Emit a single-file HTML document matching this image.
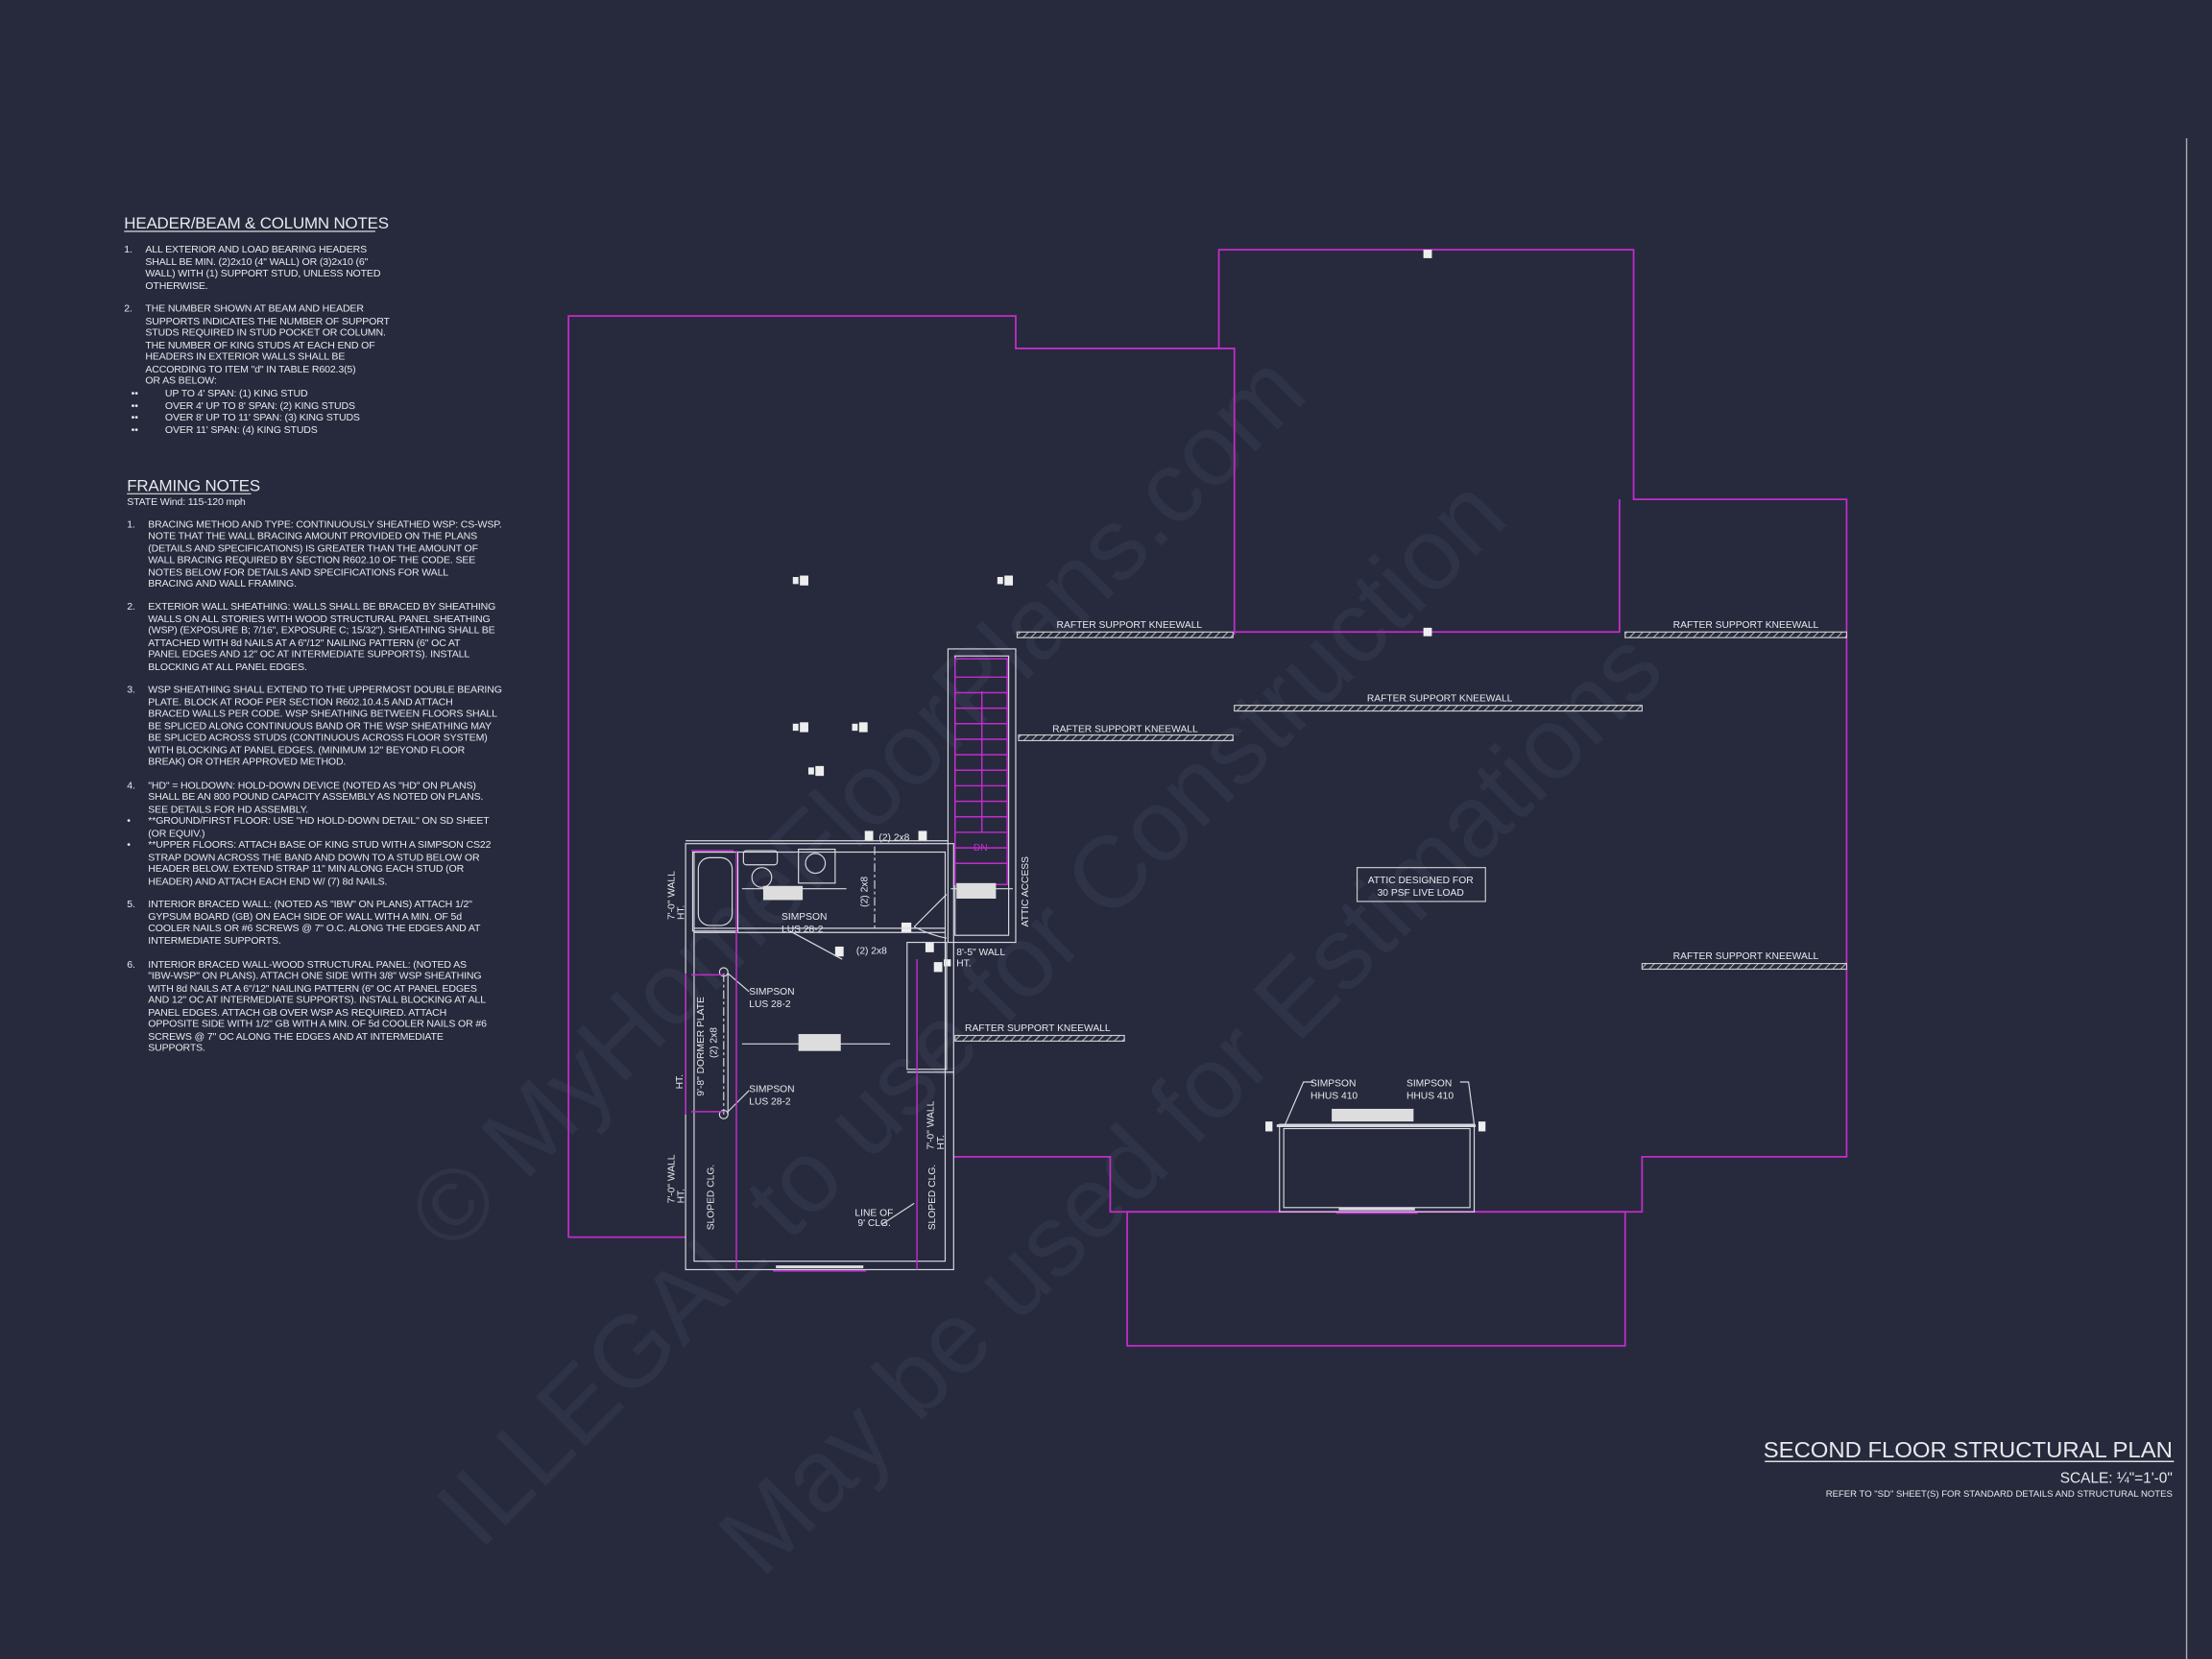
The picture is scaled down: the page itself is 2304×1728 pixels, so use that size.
<!DOCTYPE html>
<html><head><meta charset="utf-8"><style>
html,body{margin:0;padding:0;background:#262a3c;}
svg{display:block}
text{font-family:"Liberation Sans",sans-serif;fill:#e8e8ee;}
.n text{font-stretch:condensed;letter-spacing:-0.1px}
</style></head><body>
<svg width="2304" height="1728" viewBox="0 0 1568 1176" xmlns="http://www.w3.org/2000/svg">
<defs>
<pattern id="h" width="4" height="4" patternUnits="userSpaceOnUse" patternTransform="rotate(45)"><rect width="4" height="4" fill="#262a3c"/><line x1="0" y1="0" x2="0" y2="4" stroke="#ccc" stroke-width="1.2"/></pattern>
</defs>
<rect width="1568" height="1176" fill="#262a3c"/>
<!-- watermark -->
<g font-size="72" font-family="Liberation Serif,serif">
<text x="0" y="0" transform="translate(320,890) rotate(-45)" style="fill:#2f3347">© MyHomeFloorPlans.com</text>
<text x="0" y="0" transform="translate(340,1100) rotate(-45)" style="fill:#2f3347">ILLEGAL to use for Construction</text>
<text x="0" y="0" transform="translate(540,1120) rotate(-45)" style="fill:#2f3347">May be used for Estimations</text>
</g>
<line x1="1550" y1="98" x2="1550" y2="1176" stroke="#aaa" stroke-width="1"/>
<!-- magenta outlines -->
<g fill="none" stroke="#c22ccc" stroke-width="1.2">
<path d="M486,877 L403,877 L403,224 L720,224 L720,247 L864,247 L864,177 L1158,177 L1158,354 L1309,354 L1309,820 L1164,820 L1164,859 L787,859 L787,820 L676,820"/>
<path d="M864,247 L875,247 L875,450"/>
<path d="M875,448 L1148,448 L1148,354"/>
<rect x="799" y="859" width="353" height="95"/>
</g>
<!-- kneewalls -->
<g stroke="#ccc" stroke-width="0.8">
<rect x="721" y="448" width="153" height="4" fill="url(#h)"/>
<rect x="1152" y="448" width="157" height="4" fill="url(#h)"/>
<rect x="875" y="500" width="289" height="4" fill="url(#h)"/>
<rect x="722" y="521" width="152" height="4" fill="url(#h)"/>
<rect x="1164" y="683" width="145" height="4" fill="url(#h)"/>
<rect x="677" y="734" width="120" height="4" fill="url(#h)"/>
</g>
<g font-size="7">
<text x="749" y="445">RAFTER SUPPORT KNEEWALL</text>
<text x="1186" y="445">RAFTER SUPPORT KNEEWALL</text>
<text x="969" y="497">RAFTER SUPPORT KNEEWALL</text>
<text x="746" y="519">RAFTER SUPPORT KNEEWALL</text>
<text x="1186" y="680">RAFTER SUPPORT KNEEWALL</text>
<text x="684" y="731">RAFTER SUPPORT KNEEWALL</text>
</g>
<rect x="962" y="615" width="91" height="24" fill="none" stroke="#ccc" stroke-width="0.8"/>
<text x="1007" y="626" font-size="7" text-anchor="middle">ATTIC DESIGNED FOR</text>
<text x="1007" y="635" font-size="7" text-anchor="middle">30 PSF LIVE LOAD</text>
<!-- small squares -->
<g fill="#eee">
<rect x="1009" y="177" width="6" height="6"/><rect x="1009" y="445" width="6" height="6"/>
<rect x="562" y="409" width="4" height="5"/><rect x="567" y="408" width="6" height="7"/>
<rect x="707" y="409" width="4" height="5"/><rect x="712" y="408" width="6" height="7"/>
<rect x="562" y="513" width="4" height="5"/><rect x="567" y="512" width="6" height="7"/>
<rect x="604" y="513" width="4" height="5"/><rect x="609" y="512" width="6" height="7"/>
<rect x="573" y="544" width="4" height="5"/><rect x="578" y="543" width="6" height="7"/>
<rect x="613" y="589" width="6" height="7"/><rect x="651" y="589" width="6" height="7"/>
<rect x="592" y="671" width="6" height="7"/><rect x="639" y="654" width="7" height="7"/>
<rect x="662" y="682" width="6" height="7"/><rect x="669" y="680" width="5" height="5"/>
<rect x="656" y="668" width="6" height="7"/>
<rect x="897" y="795" width="5" height="7"/><rect x="1048" y="795" width="5" height="7"/>
</g>
<!-- room -->
<g fill="none" stroke="#d8d8e0" stroke-width="0.8">
<rect x="486" y="598" width="190" height="302"/>
<rect x="492" y="604" width="178" height="290"/>
<line x1="486" y1="596" x2="672" y2="596"/>
<line x1="492" y1="658" x2="670" y2="658"/>
<line x1="492" y1="661" x2="670" y2="661"/>
<rect x="672" y="460" width="48" height="208"/>
<rect x="677" y="465" width="38" height="198"/>
<rect x="491" y="604" width="32" height="56"/>
<rect x="495" y="608" width="24" height="48" rx="8"/>
<rect x="527" y="603" width="24" height="10" rx="2"/>
<circle cx="540" cy="622" r="7"/>
<rect x="566" y="602" width="26" height="24"/><circle cx="578" cy="612" r="7"/>
<line x1="620" y1="600" x2="620" y2="660" stroke-dasharray="6 2 2 2"/>
<line x1="513" y1="690" x2="513" y2="790" stroke-dasharray="6 2 2 2"/>
<line x1="516" y1="690" x2="516" y2="790"/>
<circle cx="513" cy="689" r="3"/><circle cx="513" cy="790" r="3"/>
<path d="M648,657 L671,634 M648,657 Q660,663 671,665"/>
<rect x="643" y="668" width="28" height="90"/>
<line x1="643" y1="760" x2="676" y2="760"/>
<rect x="907" y="797" width="138" height="62"/>
<rect x="910" y="800" width="132" height="56"/>
<line x1="905" y1="798" x2="1046" y2="798" stroke-width="2"/>
<line x1="550" y1="898" x2="612" y2="898" stroke-width="2"/>
<line x1="949" y1="857" x2="1003" y2="857" stroke-width="2"/>
<line x1="526" y1="630" x2="600" y2="630"/><line x1="674" y1="630" x2="718" y2="630"/>
<line x1="526" y1="740" x2="631" y2="740"/>
<line x1="597" y1="680" x2="560" y2="660"/>
<path d="M531,703 L516,690 M531,773 L516,788"/>
<path d="M931,767 L924,767 L911,797 M1035,767 L1041,767 L1045,797"/>
<line x1="625" y1="868" x2="648" y2="853"/>
</g>
<g fill="none" stroke="#c22ccc" stroke-width="1">
<rect x="677" y="467" width="37" height="160"/>
<path d="M677,480h37M677,491h37M677,502h37M677,513h37M677,524h37M677,535h37M677,546h37M677,557h37M677,568h37M677,579h37M677,590h37M677,601h37M677,612h37"/>
<line x1="696" y1="490" x2="696" y2="590"/>
<line x1="490" y1="603" x2="520" y2="603"/>
<line x1="522" y1="603" x2="522" y2="900"/>
<line x1="650" y1="680" x2="650" y2="900"/>
<line x1="490" y1="691" x2="513" y2="691"/><line x1="490" y1="788" x2="513" y2="788"/>
<line x1="486" y1="690" x2="486" y2="790"/>
<line x1="548" y1="901" x2="614" y2="901"/>
<line x1="947" y1="860" x2="1005" y2="860"/>
</g>
<text x="690" y="603" font-size="7" style="fill:#c22ccc">DN</text>
<g fill="#ddd"><rect x="541" y="628" width="28" height="10"/><rect x="678" y="626" width="28" height="11"/><rect x="566" y="733" width="30" height="12"/><rect x="944" y="786" width="58" height="9"/></g>
<g font-size="7">
<text x="623" y="596">(2) 2x8</text>
<text x="607" y="676">(2) 2x8</text>
<text x="554" y="652">SIMPSON</text><text x="554" y="661">LUS 28-2</text>
<text x="531" y="705">SIMPSON</text><text x="531" y="714">LUS 28-2</text>
<text x="531" y="774">SIMPSON</text><text x="531" y="783">LUS 28-2</text>
<text x="678" y="677">8'-5" WALL</text><text x="678" y="685">HT.</text>
<text x="606" y="862">LINE OF</text><text x="608" y="869">9' CLG.</text>
<text x="929" y="770">SIMPSON</text><text x="929" y="779">HHUS 410</text>
<text x="997" y="770">SIMPSON</text><text x="997" y="779">HHUS 410</text>
<text transform="translate(615,643) rotate(-90)">(2) 2x8</text>
<text transform="translate(508,750) rotate(-90)">(2) 2x8</text>
<text transform="translate(499,777) rotate(-90)">9'-8" DORMER PLATE</text>
<text transform="translate(484,772) rotate(-90)">HT.</text>
<text transform="translate(478,652) rotate(-90)">7'-0" WALL</text><text transform="translate(485,652) rotate(-90)">HT.</text>
<text transform="translate(478,853) rotate(-90)">7'-0" WALL</text><text transform="translate(485,853) rotate(-90)">HT.</text>
<text transform="translate(662,815) rotate(-90)">7'-0" WALL</text><text transform="translate(669,815) rotate(-90)">HT.</text>
<text transform="translate(506,872) rotate(-90)">SLOPED CLG.</text>
<text transform="translate(663,872) rotate(-90)">SLOPED CLG.</text>
<text transform="translate(729,657) rotate(-90)">ATTIC ACCESS</text>
</g>
<!-- notes -->
<g font-size="7.2" class="n">
<text x="88" y="162" font-size="11.5">HEADER/BEAM &amp; COLUMN NOTES</text>
<line x1="88" y1="164" x2="266" y2="164" stroke="#ddd" stroke-width="0.8"/>
<text x="88" y="179">1.</text>
<text x="103" y="179">ALL EXTERIOR AND LOAD BEARING HEADERS</text>
<text x="103" y="188">SHALL BE MIN. (2)2x10 (4" WALL) OR (3)2x10 (6"</text>
<text x="103" y="196">WALL) WITH (1) SUPPORT STUD, UNLESS NOTED</text>
<text x="103" y="205">OTHERWISE.</text>
<text x="88" y="221">2.</text>
<text x="103" y="221">THE NUMBER SHOWN AT BEAM AND HEADER</text>
<text x="103" y="230">SUPPORTS INDICATES THE NUMBER OF SUPPORT</text>
<text x="103" y="238">STUDS REQUIRED IN STUD POCKET OR COLUMN.</text>
<text x="103" y="247">THE NUMBER OF KING STUDS AT EACH END OF</text>
<text x="103" y="255">HEADERS IN EXTERIOR WALLS SHALL BE</text>
<text x="103" y="264">ACCORDING TO ITEM "d" IN TABLE R602.3(5)</text>
<text x="103" y="272">OR AS BELOW:</text>
<text x="93" y="281">••</text><text x="117" y="281">UP TO 4' SPAN: (1) KING STUD</text>
<text x="93" y="290">••</text><text x="117" y="290">OVER 4' UP TO 8' SPAN: (2) KING STUDS</text>
<text x="93" y="298">••</text><text x="117" y="298">OVER 8' UP TO 11' SPAN: (3) KING STUDS</text>
<text x="93" y="307">••</text><text x="117" y="307">OVER 11' SPAN: (4) KING STUDS</text>
<text x="90" y="348" font-size="11.5">FRAMING NOTES</text>
<line x1="90" y1="350" x2="178" y2="350" stroke="#ddd" stroke-width="0.8"/>
<text x="90" y="358">STATE Wind: 115-120 mph</text>
<text x="90" y="374">1.</text>
<text x="105" y="374">BRACING METHOD AND TYPE: CONTINUOUSLY SHEATHED WSP: CS-WSP.</text>
<text x="105" y="382">NOTE THAT THE WALL BRACING AMOUNT PROVIDED ON THE PLANS</text>
<text x="105" y="391">(DETAILS AND SPECIFICATIONS) IS GREATER THAN THE AMOUNT OF</text>
<text x="105" y="399">WALL BRACING REQUIRED BY SECTION R602.10 OF THE CODE. SEE</text>
<text x="105" y="408">NOTES BELOW FOR DETAILS AND SPECIFICATIONS FOR WALL</text>
<text x="105" y="416">BRACING AND WALL FRAMING.</text>
<text x="90" y="432">2.</text>
<text x="105" y="432">EXTERIOR WALL SHEATHING: WALLS SHALL BE BRACED BY SHEATHING</text>
<text x="105" y="441">WALLS ON ALL STORIES WITH WOOD STRUCTURAL PANEL SHEATHING</text>
<text x="105" y="449">(WSP) (EXPOSURE B; 7/16", EXPOSURE C; 15/32"). SHEATHING SHALL BE</text>
<text x="105" y="458">ATTACHED WITH 8d NAILS AT A 6"/12" NAILING PATTERN (6" OC AT</text>
<text x="105" y="466">PANEL EDGES AND 12" OC AT INTERMEDIATE SUPPORTS). INSTALL</text>
<text x="105" y="475">BLOCKING AT ALL PANEL EDGES.</text>
<text x="90" y="491">3.</text>
<text x="105" y="491">WSP SHEATHING SHALL EXTEND TO THE UPPERMOST DOUBLE BEARING</text>
<text x="105" y="500">PLATE. BLOCK AT ROOF PER SECTION R602.10.4.5 AND ATTACH</text>
<text x="105" y="508">BRACED WALLS PER CODE. WSP SHEATHING BETWEEN FLOORS SHALL</text>
<text x="105" y="517">BE SPLICED ALONG CONTINUOUS BAND OR THE WSP SHEATHING MAY</text>
<text x="105" y="525">BE SPLICED ACROSS STUDS (CONTINUOUS ACROSS FLOOR SYSTEM)</text>
<text x="105" y="534">WITH BLOCKING AT PANEL EDGES. (MINIMUM 12" BEYOND FLOOR</text>
<text x="105" y="542">BREAK) OR OTHER APPROVED METHOD.</text>
<text x="90" y="559">4.</text>
<text x="105" y="559">"HD" = HOLDOWN: HOLD-DOWN DEVICE (NOTED AS "HD" ON PLANS)</text>
<text x="105" y="567">SHALL BE AN 800 POUND CAPACITY ASSEMBLY AS NOTED ON PLANS.</text>
<text x="105" y="576">SEE DETAILS FOR HD ASSEMBLY.</text>
<text x="90" y="584">•</text><text x="105" y="584">**GROUND/FIRST FLOOR: USE "HD HOLD-DOWN DETAIL" ON SD SHEET</text>
<text x="105" y="593">(OR EQUIV.)</text>
<text x="90" y="601">•</text><text x="105" y="601">**UPPER FLOORS: ATTACH BASE OF KING STUD WITH A SIMPSON CS22</text>
<text x="105" y="610">STRAP DOWN ACROSS THE BAND AND DOWN TO A STUD BELOW OR</text>
<text x="105" y="618">HEADER BELOW. EXTEND STRAP 11" MIN ALONG EACH STUD (OR</text>
<text x="105" y="627">HEADER) AND ATTACH EACH END W/ (7) 8d NAILS.</text>
<text x="90" y="643">5.</text>
<text x="105" y="643">INTERIOR BRACED WALL: (NOTED AS "IBW" ON PLANS) ATTACH 1/2"</text>
<text x="105" y="652">GYPSUM BOARD (GB) ON EACH SIDE OF WALL WITH A MIN. OF 5d</text>
<text x="105" y="660">COOLER NAILS OR #6 SCREWS @ 7" O.C. ALONG THE EDGES AND AT</text>
<text x="105" y="669">INTERMEDIATE SUPPORTS.</text>
<text x="90" y="686">6.</text>
<text x="105" y="686">INTERIOR BRACED WALL-WOOD STRUCTURAL PANEL: (NOTED AS</text>
<text x="105" y="694">"IBW-WSP" ON PLANS). ATTACH ONE SIDE WITH 3/8" WSP SHEATHING</text>
<text x="105" y="703">WITH 8d NAILS AT A 6"/12" NAILING PATTERN (6" OC AT PANEL EDGES</text>
<text x="105" y="711">AND 12" OC AT INTERMEDIATE SUPPORTS). INSTALL BLOCKING AT ALL</text>
<text x="105" y="720">PANEL EDGES. ATTACH GB OVER WSP AS REQUIRED. ATTACH</text>
<text x="105" y="728">OPPOSITE SIDE WITH 1/2" GB WITH A MIN. OF 5d COOLER NAILS OR #6</text>
<text x="105" y="737">SCREWS @ 7" OC ALONG THE EDGES AND AT INTERMEDIATE</text>
<text x="105" y="745">SUPPORTS.</text>
</g>
<!-- title -->
<text x="1540" y="1033" font-size="16" text-anchor="end" textLength="290" lengthAdjust="spacingAndGlyphs">SECOND FLOOR STRUCTURAL PLAN</text>
<line x1="1251" y1="1036" x2="1541" y2="1036" stroke="#ddd" stroke-width="1"/>
<text x="1540" y="1051" font-size="10.5" text-anchor="end">SCALE: ¼"=1'-0"</text>
<text x="1540" y="1061" font-size="6.5" text-anchor="end">REFER TO "SD" SHEET(S) FOR STANDARD DETAILS AND STRUCTURAL NOTES</text>
</svg>
</body></html>
